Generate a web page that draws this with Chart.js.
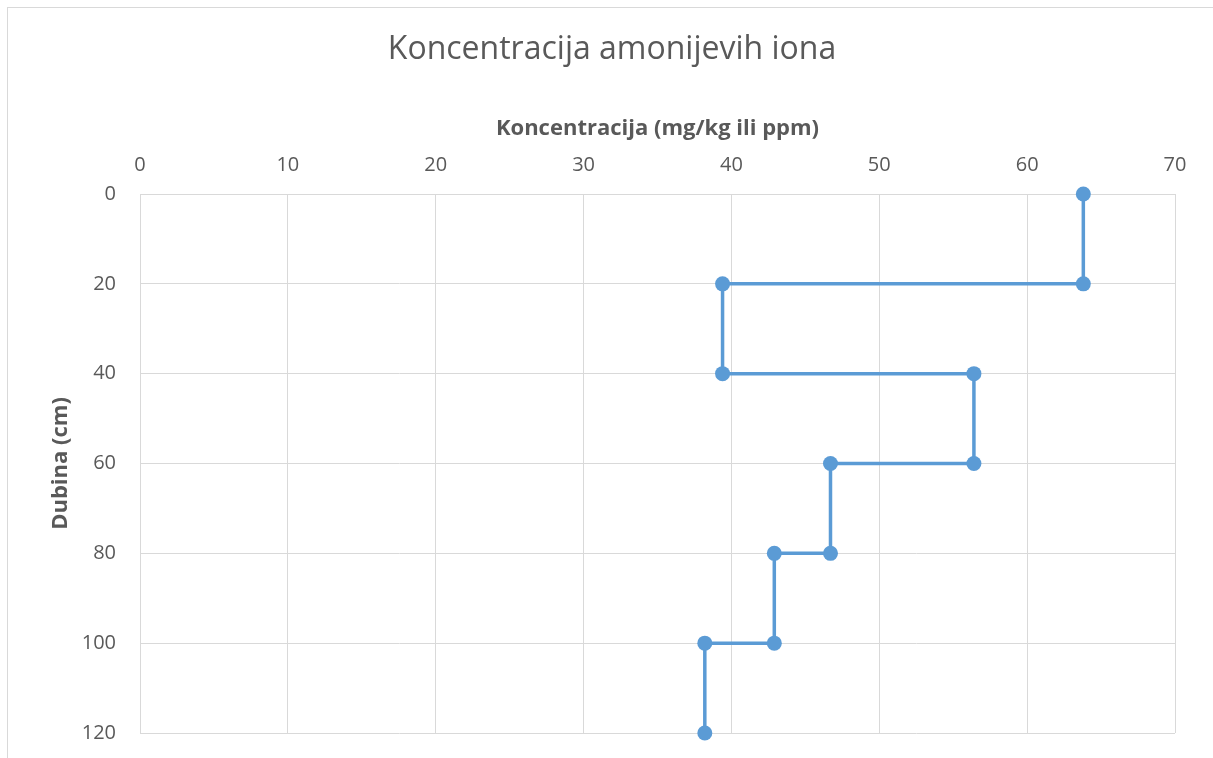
<!DOCTYPE html>
<html>
<head>
<meta charset="utf-8">
<script src="https://cdn.jsdelivr.net/npm/chart.js@4/dist/chart.umd.min.js"></script>
<style>
    html, body { margin: 0; padding: 0; background: #ffffff; }
    #wrap { width: 1213px; height: 758px; position: relative; }
</style>
</head>
<body>
<div id="wrap"><canvas id="ionChart" width="1213" height="758"></canvas></div>
<script>
// depth (cm) and concentration (mg/kg) of each step of the profile
const depths = [0, 20, 20, 40, 40, 60, 60, 80, 80, 100, 100, 120];
const concentrations = [63.8, 63.8, 39.4, 39.4, 56.4, 56.4, 46.7, 46.7, 42.9, 42.9, 38.2, 38.2];

const xTicks = [0, 10, 20, 30, 40, 50, 60, 70];
const yTicks = [0, 20, 40, 60, 80, 100, 120];

const chartTitle = "Koncentracija amonijevih iona";
const textColor = "#595959";
const gridColor = "#d9d9d9";
const lineColor = "#5b9bd5";

// outer frame + title, drawn like the spreadsheet chart box
const frame = {
    id: "frame",
    beforeDraw(chart) {
        const ctx = chart.ctx;
        ctx.save();
        ctx.strokeStyle = gridColor;
        ctx.lineWidth = 1;
        ctx.strokeRect(7.5, 7.5, chart.width, chart.height);
        ctx.fillStyle = textColor;
        ctx.font = "32px 'Open Sans'";
        ctx.textAlign = "center";
        ctx.textBaseline = "middle";
        ctx.fillText(chartTitle, 612, 50);
        ctx.restore();
    }
};

const points = depths.map((d, i) => ({ x: concentrations[i], y: d }));

new Chart(document.getElementById("ionChart").getContext("2d"), {
    type: "scatter",
    data: {
        datasets: [
            {
                label: "Koncentracija",
                data: points,
                showLine: true,
                clip: false,
                borderColor: lineColor,
                backgroundColor: lineColor,
                borderWidth: 3.5,
                pointRadius: 7.5,
                pointHoverRadius: 7.5,
                pointBorderWidth: 0
            }
        ]
    },
    options: {
        responsive: false,
        animation: false,
        layout: {
            padding: { left: 0, right: 38, top: 68, bottom: 25 }
        },
        plugins: {
            legend: { display: false },
            tooltip: { enabled: false },
            title: { display: false }
        },
        scales: {
            x: {
                type: "linear",
                position: "top",
                min: 0,
                max: 70,
                afterBuildTicks: axis => {
                    axis.ticks = xTicks.map(v => ({ value: v }));
                },
                afterFit: axis => {
                    axis.height = 126;
                },
                grid: { color: gridColor, drawTicks: false },
                border: { color: gridColor },
                ticks: {
                    color: textColor,
                    padding: 17,
                    font: { family: "'Open Sans'", size: 20 }
                },
                title: {
                    display: true,
                    text: "Koncentracija (mg/kg ili ppm)",
                    color: textColor,
                    font: { family: "'Open Sans'", size: 22, weight: "bold" },
                    padding: { top: 48, bottom: 0 }
                }
            },
            y: {
                type: "linear",
                reverse: true,
                min: 0,
                max: 120,
                afterBuildTicks: axis => {
                    axis.ticks = yTicks.map(v => ({ value: v }));
                },
                afterFit: axis => {
                    axis.width = 140;
                    axis.paddingTop = 0;
                    axis.paddingBottom = 0;
                },
                grid: { color: gridColor, drawTicks: false },
                border: { color: gridColor },
                ticks: {
                    color: textColor,
                    padding: 24,
                    font: { family: "'Open Sans'", size: 20 }
                },
                title: {
                    display: true,
                    text: "Dubina (cm)",
                    color: textColor,
                    font: { family: "'Open Sans'", size: 22, weight: "bold" },
                    padding: { top: 48, bottom: 0 }
                }
            }
        }
    },
    plugins: [frame]
});
</script>
</body>
</html>
